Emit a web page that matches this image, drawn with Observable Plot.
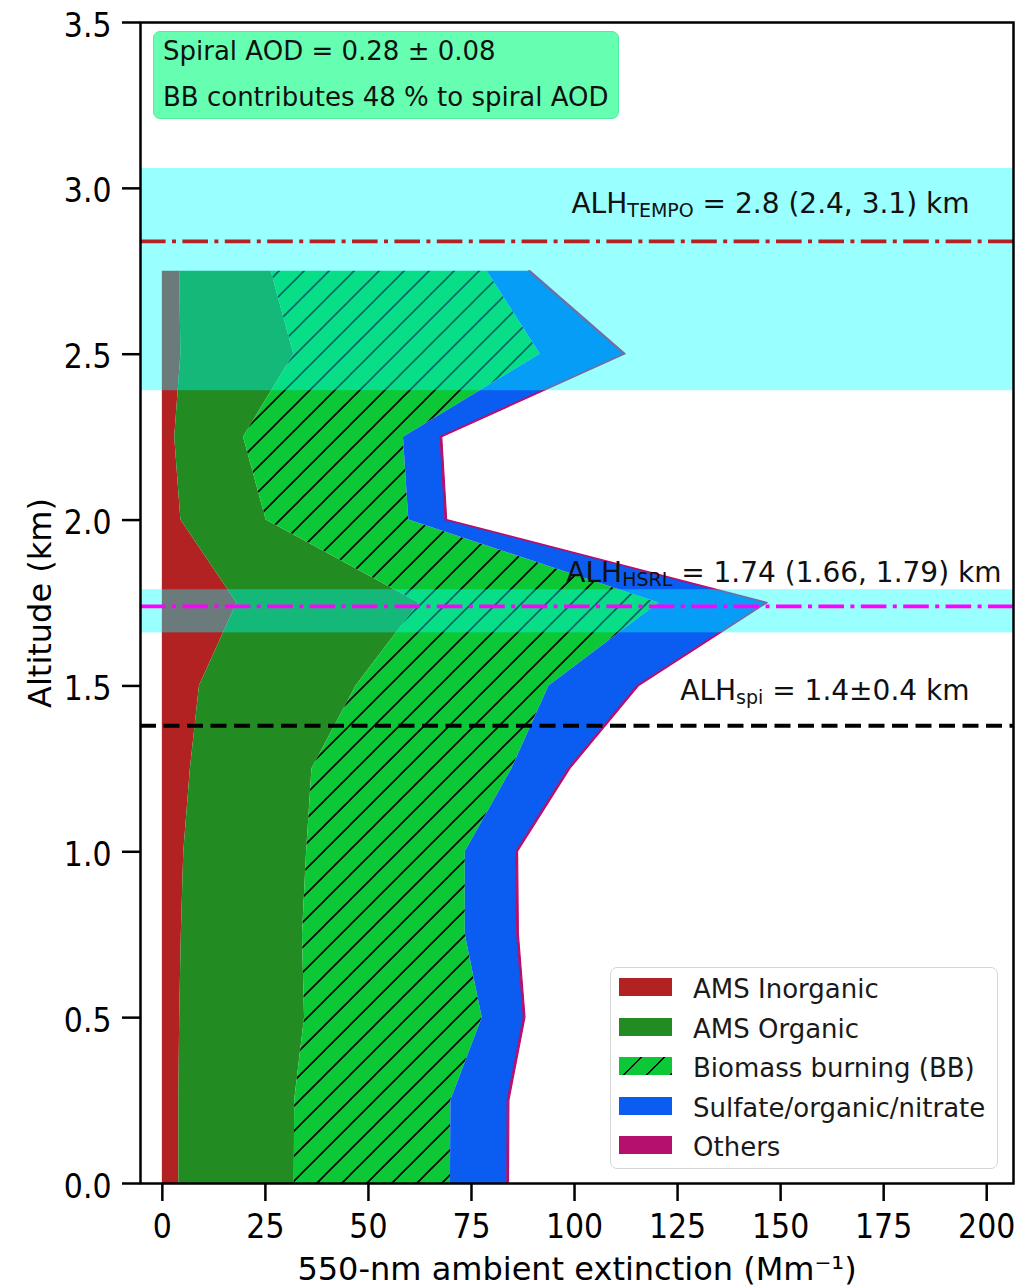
<!DOCTYPE html>
<html>
<head>
<meta charset="utf-8">
<script src="https://cdn.jsdelivr.net/npm/d3@7"></script>
<script src="https://cdn.jsdelivr.net/npm/@observablehq/plot@0.6"></script>
<style>
  body { margin: 0; background: #fff; font-family: "DejaVu Sans", sans-serif; }
  #chart { position: relative; width: 1022px; height: 1288px; }
  #chart svg { display: block; }
  .aod-box {
    position: absolute; left: 153px; top: 31px; width: 464px; height: 86px;
    background: rgb(102, 255, 178); border: 1px solid rgb(80, 236, 160);
    border-radius: 7px; font-size: 26px; line-height: 30px; color: #111;
  }
  .aod-box div { position: absolute; left: 9px; white-space: nowrap; }
  .legend {
    position: absolute; left: 610px; top: 967px; width: 386px; height: 200px;
    border: 1px solid #d6d6d6; border-radius: 7px; background: rgba(255, 255, 255, 0.85);
  }
  .legend .swatch { position: absolute; left: 8px; width: 53px; height: 18px; }
  .legend .name {
    position: absolute; left: 82px; font-size: 26px; line-height: 30px;
    color: #1a1a1a; white-space: nowrap;
  }
</style>
</head>
<body>
<div id="chart"></div>
<script>
// Altitude levels of the spiral profile (km)
const altitude = [0, 0.25, 0.5, 0.75, 1.0, 1.25, 1.5, 1.75, 2.0, 2.25, 2.5, 2.75];

// 550-nm ambient extinction contributions per component (Mm^-1)
const amsInorganic      = [4.0, 4.0, 4.2, 4.6, 5.2, 6.8, 9.0, 18.1, 4.5, 3.0, 4.5, 4.2];
const amsOrganic        = [28.0, 28.1, 30.3, 29.4, 29.8, 29.5, 38.0, 44.2, 20.7, 16.7, 27.4, 22.2];
const biomassBurning    = [37.9, 37.9, 43.1, 39.5, 38.5, 48.5, 46.8, 58.2, 34.6, 38.8, 59.8, 52.4];
const sulfateOrgNitrate = [13.8, 13.8, 10.1, 12.6, 12.4, 13.8, 21.5, 26.0, 8.9, 9.0, 20.3, 10.1];
const others            = [0.4, 0.4, 0.4, 0.4, 0.4, 0.4, 0.4, 0.4, 0.4, 0.4, 0.4, 0.4];

const seriesNames = ["AMS Inorganic", "AMS Organic", "Biomass burning (BB)", "Sulfate/organic/nitrate", "Others"];
const seriesValues = [amsInorganic, amsOrganic, biomassBurning, sulfateOrgNitrate, others];
const seriesColors = ["#b22222", "#228b22", "#0cc837", "#0b5cf0", "#b5106e"];

// Aerosol layer heights (km)
const alhNames  = ["TEMPO", "HSRL", "spi"];
const alhCenter = [2.84, 1.74, 1.38];
const alhLow    = [2.39, 1.66, null];
const alhHigh   = [3.06, 1.79, null];
const alhSpread = [null, null, 0.4];

// Column summary
const spiralAOD = 0.28;
const spiralAODErr = 0.08;
const bbShare = 48;

const xTicks = [0, 25, 50, 75, 100, 125, 150, 175, 200];
const yTicks = [0, 0.5, 1.0, 1.5, 2.0, 2.5, 3.0, 3.5];

// Cumulative stack: each component fills between the running totals
const stackRows = [];
altitude.forEach((alt, j) => {
  let total = 0;
  seriesNames.forEach((name, i) => {
    const x1 = total;
    total += seriesValues[i][j];
    stackRows.push({series: name, altitude: alt, x1, x2: total});
  });
});

const f1 = d3.format(".1f"), f2 = d3.format(".2f");
const alhRest = [
  `= ${f1(alhCenter[0])} (${f1(alhLow[0])}, ${f1(alhHigh[0])}) km`,
  `= ${f2(alhCenter[1])} (${f2(alhLow[1])}, ${f2(alhHigh[1])}) km`,
  `= ${f1(alhCenter[2])}±${f1(alhSpread[2])} km`
];
const alhLabel = alhNames.map((n, i) => `ALH${n} ${alhRest[i]}`);
const bands = alhNames.map((n, i) => ({lo: alhLow[i], hi: alhHigh[i]})).filter(d => d.lo != null);

const lineStyles = [
  {stroke: "#b22222", dash: "25.6,6.4,4,6.4", dx: -44, dy: -37},
  {stroke: "#ff00ff", dash: "25.6,6.4,4,6.4", dx: -12, dy: -33},
  {stroke: "#000000", dash: "16,7.5", dx: -44, dy: -35}
];

const areaFill = i => (i === 2 ? "url(#bb-hatch)" : seriesColors[i]);

const plot = Plot.plot({
  width: 1022,
  height: 1288,
  marginLeft: 140,
  marginRight: 9,
  marginTop: 22,
  marginBottom: 105,
  x: {domain: [-5.3, 206.5]},
  y: {domain: [0, 3.5]},
  style: {fontFamily: "DejaVu Sans", fontSize: "30px", color: "#000", background: "transparent"},
  marks: [
    ...seriesNames.map((name, i) =>
      Plot.areaX(stackRows.filter(d => d.series === name), {
        y: "altitude", x1: "x1", x2: "x2",
        fill: areaFill(i),
        stroke: i === 4 ? seriesColors[i] : "none",
        strokeWidth: 1.2
      })
    ),
    Plot.rect(bands, {y1: "lo", y2: "hi", fill: "#00ffff", fillOpacity: 0.4}),
    ...alhNames.map((name, i) =>
      Plot.ruleY([alhCenter[i]], {
        stroke: lineStyles[i].stroke, strokeWidth: 3.8, strokeDasharray: lineStyles[i].dash
      })
    ),
    ...alhNames.map((name, i) =>
      Plot.text([i], {
        y: k => alhCenter[k],
        text: k => alhLabel[k],
        frameAnchor: "right", textAnchor: "end",
        dx: lineStyles[i].dx, dy: lineStyles[i].dy,
        fontSize: 28, fill: "#111"
      })
    ),
    Plot.frame({stroke: "#000", strokeWidth: 2.5}),
    Plot.axisX({
      ticks: xTicks, tickSize: 18, tickPadding: 12, strokeWidth: 2.5,
      tickFormat: d => String(d),
      label: "550-nm ambient extinction (Mm⁻¹)", labelAnchor: "center", labelOffset: 96, labelArrow: "none"
    }),
    Plot.axisY({
      ticks: yTicks, tickSize: 18, tickPadding: 11, strokeWidth: 2.5,
      tickFormat: d3.format(".1f"),
      label: "Altitude (km)", labelAnchor: "center", labelOffset: 112, labelArrow: "none"
    })
  ]
});

// Hatch pattern for the biomass-burning layer
const ns = "http://www.w3.org/2000/svg";
const defs = document.createElementNS(ns, "defs");
defs.innerHTML = `
  <pattern id="bb-hatch" patternUnits="userSpaceOnUse" width="25" height="25">
    <rect width="25" height="25" fill="${seriesColors[2]}"/>
    <path d="M-2,2 L2,-2 M0,25 L25,0 M23,27 L27,23" stroke="#000" stroke-width="1.6"/>
  </pattern>`;
plot.insertBefore(defs, plot.firstChild);

// Taller tick-label glyphs
plot.querySelectorAll('g[aria-label="x-axis tick label"] text').forEach(t => {
  t.setAttribute("transform", (t.getAttribute("transform") || "") + " scale(1,1.15)");
});
plot.querySelectorAll('g[aria-label="y-axis tick label"] text').forEach(t => {
  t.setAttribute("transform", (t.getAttribute("transform") || "") + " translate(0,3) scale(1,1.15)");
});
plot.querySelectorAll('g[aria-label="x-axis label"], g[aria-label="y-axis label"]').forEach(g => {
  g.setAttribute("font-size", 32);
});

// Subscripted ALH labels
plot.querySelectorAll("text").forEach(t => {
  const i = alhLabel.indexOf(t.textContent);
  if (i < 0) return;
  while (t.firstChild) t.removeChild(t.firstChild);
  t.appendChild(document.createTextNode("ALH"));
  const sub = document.createElementNS(ns, "tspan");
  sub.setAttribute("font-size", 19);
  sub.setAttribute("dy", 4);
  sub.textContent = alhNames[i];
  const rest = document.createElementNS(ns, "tspan");
  rest.setAttribute("dy", -4);
  rest.textContent = " " + alhRest[i];
  t.appendChild(sub);
  t.appendChild(rest);
});

const chart = document.getElementById("chart");
chart.appendChild(plot);

// Column-summary box
const box = document.createElement("div");
box.className = "aod-box";
box.innerHTML = `<div style="top:4px">Spiral AOD = ${spiralAOD.toFixed(2)} ± ${spiralAODErr.toFixed(2)}</div>
  <div style="top:50px">BB contributes ${bbShare} % to spiral AOD</div>`;
chart.appendChild(box);

// Legend
const legend = document.createElement("div");
legend.className = "legend";
seriesNames.forEach((name, i) => {
  const top = 10.3 + 39.4 * i;
  const sw = document.createElement("div");
  sw.className = "swatch";
  sw.style.top = top + "px";
  sw.style.background = i === 2
    ? `repeating-linear-gradient(135deg, ${seriesColors[2]} 0 15px, #000 15px 16.6px)`
    : seriesColors[i];
  legend.appendChild(sw);
  const label = document.createElement("div");
  label.className = "name";
  label.style.top = (top - 4) + "px";
  label.textContent = name;
  legend.appendChild(label);
});
chart.appendChild(legend);
</script>
</body>
</html>
